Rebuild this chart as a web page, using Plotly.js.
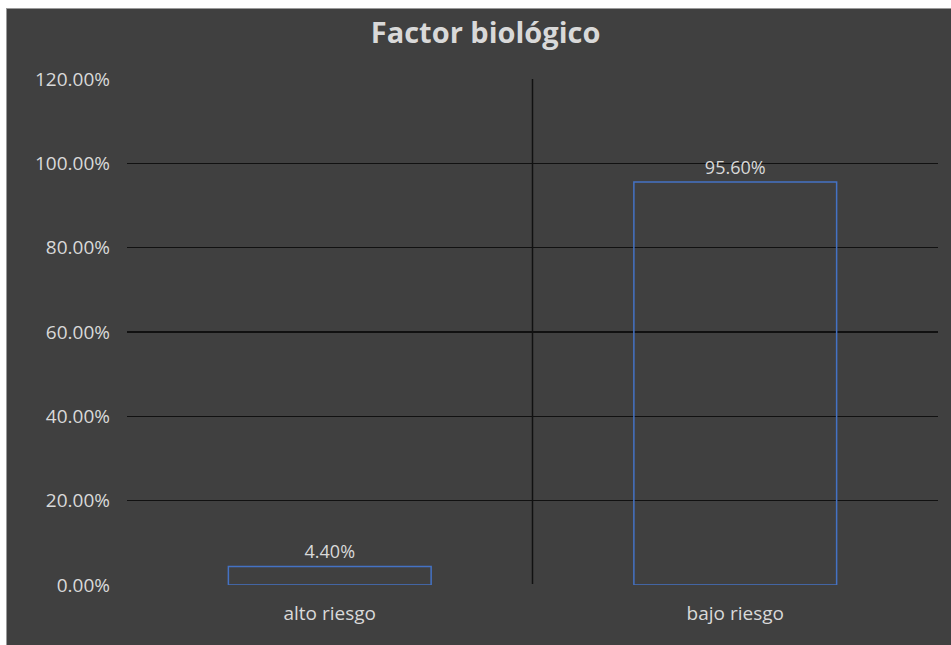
<!DOCTYPE html>
<html>
<head>
<meta charset="utf-8">
<script src="https://cdn.plot.ly/plotly-3.0.1.min.js"></script>
<style>
  html, body { margin: 0; padding: 0; background: #ffffff; }
  #chart {
    position: absolute; left: 6px; top: 8px;
    width: 944px; height: 636px;
    border-left: 1px solid #9a9a9a; border-top: 1px solid #9a9a9a;
  }
</style>
</head>
<body>
<div id="chart"></div>
<script>
// Share of cases per risk level for the biological factor
const categories = ['alto riesgo', 'bajo riesgo'];
const shares = [0.044, 0.956];
const yTicks = [0, 0.2, 0.4, 0.6, 0.8, 1.0, 1.2];

const bg = '#404040';
const textColor = '#d9d9d9';
const font = '"Open Sans", Lato, sans-serif';

const trace = {
  type: 'bar',
  x: categories,
  y: shares,
  marker: { color: 'rgba(0,0,0,0)', line: { color: '#4472c4', width: 1.5 } },
  text: shares.map(v => (v * 100).toFixed(2) + '%'),
  textposition: 'outside',
  textfont: { color: textColor, size: 18, family: font },
  cliponaxis: false,
  hoverinfo: 'x+y'
};

const layout = {
  width: 944, height: 636,
  paper_bgcolor: bg, plot_bgcolor: bg,
  margin: { l: 120, r: 13, t: 70, b: 60 },
  font: { family: font, color: textColor, size: 19 },
  title: {
    text: '<b>Factor biológico</b>',
    font: { size: 29, color: textColor, family: font },
    x: 0.507, xanchor: 'center', y: 0.962, yanchor: 'middle'
  },
  bargap: 0.5,
  showlegend: false,
  xaxis: {
    type: 'category',
    showgrid: false, zeroline: false, showline: false,
    ticks: '', ticklabelstandoff: 15,
    tickfont: { size: 19, color: textColor }
  },
  yaxis: {
    range: [0, 1.2],
    tickvals: yTicks,
    tickformat: '.2%',
    showgrid: true, gridcolor: '#111111', gridwidth: 1.5,
    zeroline: true, zerolinecolor: bg, zerolinewidth: 3,
    showline: false, ticks: '', ticklabelstandoff: 16,
    tickfont: { size: 19, color: textColor }
  },
  shapes: [{
    type: 'line', xref: 'x', yref: 'y',
    x0: 0.5, x1: 0.5, y0: 0, y1: 1.2,
    line: { color: '#111111', width: 1.5 },
    layer: 'below'
  }]
};

Plotly.newPlot('chart', [trace], layout, { displayModeBar: false, staticPlot: true });
</script>
</body>
</html>
